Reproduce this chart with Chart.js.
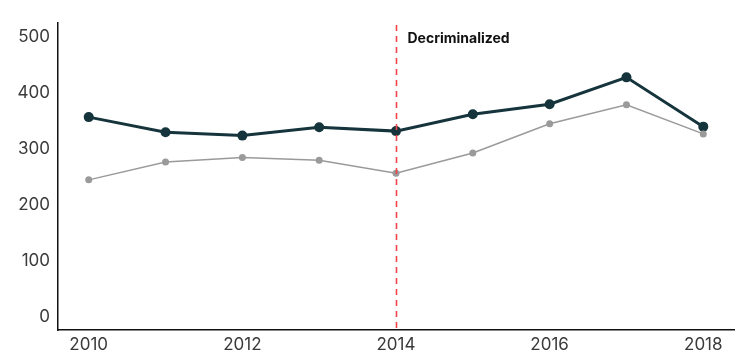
<!DOCTYPE html>
<html>
<head>
<meta charset="utf-8">
<script src="https://cdn.jsdelivr.net/npm/chart.js@4/dist/chart.umd.min.js"></script>
<style>
  html, body { margin: 0; padding: 0; background: #fff; overflow: hidden; }
  canvas { display: block; }
</style>
</head>
<body>
<canvas id="c" width="739" height="357"></canvas>
<script>
const years = [2010, 2011, 2012, 2013, 2014, 2015, 2016, 2017, 2018];
const seriesDark = [357, 330, 324, 339, 332, 362, 380, 428, 340];
const seriesGray = [245, 277, 285, 280, 257, 293, 345, 379, 327];
const xTickLabels = [2010, 2012, 2014, 2016, 2018];
const yTickLabels = [0, 100, 200, 300, 400, 500];
const eventYear = 2014;
const eventLabel = 'Decriminalized';

const FONT = 'Inter, "Liberation Sans", Arial, sans-serif';

const eventPlugin = {
  id: 'eventLine',
  afterDatasetsDraw(chart) {
    const { ctx, chartArea, scales } = chart;
    const x = Math.round(scales.x.getPixelForValue(eventYear)) + 0.5;
    ctx.save();
    ctx.strokeStyle = '#f2434a';
    ctx.lineWidth = 1.6;
    ctx.setLineDash([6, 5]);
    ctx.beginPath();
    ctx.moveTo(x, chartArea.top + 2);
    ctx.lineTo(x, chartArea.bottom);
    ctx.stroke();
    ctx.setLineDash([]);
    ctx.fillStyle = '#111';
    ctx.font = 'bold 14px ' + FONT;
    ctx.textBaseline = 'middle';
    ctx.textAlign = 'left';
    ctx.fillText(eventLabel, x + 11, chartArea.top + 15.5);
    ctx.restore();
  }
};

new Chart(document.getElementById('c'), {
  type: 'line',
  data: {
    datasets: [
      {
        data: years.map((y, i) => ({ x: y, y: seriesGray[i] })),
        borderColor: '#9a9a9a',
        backgroundColor: '#9a9a9a',
        borderWidth: 1.5,
        pointRadius: 3.5,
        pointHoverRadius: 3.5,
        pointBorderWidth: 0,
        tension: 0
      },
      {
        data: years.map((y, i) => ({ x: y, y: seriesDark[i] })),
        borderColor: '#15343b',
        backgroundColor: '#15343b',
        borderWidth: 3,
        pointRadius: 5,
        pointHoverRadius: 5,
        pointBorderWidth: 0,
        tension: 0
      }
    ]
  },
  plugins: [eventPlugin],
  options: {
    responsive: false,
    animation: false,
    devicePixelRatio: 1,
    layout: { padding: { top: 23, right: 4, left: 0, bottom: 0 } },
    plugins: { legend: { display: false }, tooltip: { enabled: false } },
    scales: {
      x: {
        type: 'linear',
        min: 2009.6,
        max: 2018.4,
        grid: { display: false, drawTicks: false },
        border: { display: true, color: '#111', width: 1.5 },
        afterBuildTicks(scale) { scale.ticks = xTickLabels.map(v => ({ value: v })); },
        afterFit(scale) { scale.height = 27; },
        ticks: {
          color: '#3a3a3a',
          font: { family: FONT, size: 17 },
          padding: 5,
          maxRotation: 0,
          autoSkip: false,
          callback: v => String(v)
        }
      },
      y: {
        min: -23,
        max: 525,
        grid: { display: false, drawTicks: false },
        border: { display: true, color: '#111', width: 1.5 },
        afterBuildTicks(scale) { scale.ticks = yTickLabels.map(v => ({ value: v })); },
        afterFit(scale) { scale.width = 58; },
        ticks: {
          color: '#3a3a3a',
          font: { family: FONT, size: 17 },
          padding: 8,
          autoSkip: false,
          callback: v => String(v)
        }
      }
    }
  }
});
</script>
</body>
</html>
